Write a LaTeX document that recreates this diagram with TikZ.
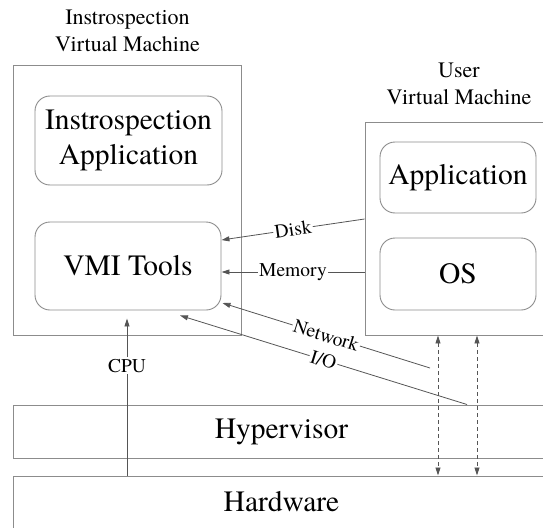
\documentclass[tikz,border=0pt]{standalone}
\usepackage{fontspec}
\setmainfont{texgyretermes}[Extension=.otf, UprightFont=*-regular, BoldFont=*-bold, ItalicFont=*-italic, BoldItalicFont=*-bolditalic]
\usepackage{xcolor}
\usepackage{tikz}
\usetikzlibrary{arrows.meta,calc}

\definecolor{boxgray}{HTML}{8C8C8C}
\definecolor{linkgray}{HTML}{555555}

\begin{document}
\begin{tikzpicture}[x=1pt, y=-1pt, >={Triangle[length=8pt,width=5pt]},
  vmbox/.style={draw=boxgray, line width=0.9pt, inner sep=0pt},
  part/.style={draw=boxgray, line width=0.9pt, rounded corners=15pt, align=center, font=\fontsize{29.5}{35}\selectfont},
  layer/.style={draw=boxgray, line width=1pt, font=\fontsize{29.5}{35}\selectfont},
  title/.style={align=center, font=\fontsize{22}{27}\selectfont},
  link/.style={draw=linkgray, line width=0.8pt, ->},
  lbl/.style={fill=white, inner sep=1.5pt, font=\fontsize{19.5}{22}\selectfont}]
\useasboundingbox (0,0) rectangle (543,527);

% Layers
\node[layer, minimum width=537pt, minimum height=53pt] (hyp) at (281.5,431.5) {Hypervisor};
\node[layer, minimum width=537pt, minimum height=52pt] (hw) at (281.5,502) {Hardware};

% Introspection VM
\node[vmbox, minimum width=228pt, minimum height=270pt] (ivm) at (127,200) {};
\node[title] (ivmtitle) at (127.5,31) {Instrospection\\Virtual Machine};
\node[part, minimum width=187pt, minimum height=89pt] (iapp) at (128.5,140.5) {Instrospection\\Application};
\node[part, minimum width=186pt, minimum height=88pt] (vmi) at (128,266) {VMI Tools};

% User VM
\node[vmbox, minimum width=185pt, minimum height=213pt] (uvm) at (457.5,228.5) {};
\node[title] (uvmtitle) at (459,84) {User\\Virtual Machine};
\node[part, minimum width=156pt, minimum height=71pt] (uapp) at (458,177.5) {Application};
\node[part, minimum width=156pt, minimum height=72pt] (os) at (458,274) {OS};

% Access paths
\coordinate (netS) at (430,368);
\draw[link] ($(uvm.west)+(0,-9.5)$) -- node[lbl, sloped] {Disk} ($(vmi.east)+(0,-26)$);
\draw[link] ($(uvm.west)+(0,43.5)$) -- node[lbl] {Memory} ($(vmi.east)+(0,6)$);
\draw[link] (netS) -- node[lbl, sloped] {Network} ($(vmi.east)+(1,37)$);
\draw[link] ($(hyp.north)+(185.5,0)$) -- node[lbl, sloped] {I/O} ($(vmi.south)+(52,5)$);
\draw[link] ($(hw.north)+(-154.5,0)$) -- node[lbl, pos=0.7] {CPU} ($(vmi.south)+(-1,8)$);

% Hardware access
\draw[link, <->, dash pattern=on 4pt off 3pt] ($(uvm.south)+(-19.5,0)$) -- ($(hw.north)+(156.5,0)$);
\draw[link, <->, dash pattern=on 4pt off 3pt] ($(uvm.south)+(19.5,0)$) -- ($(hw.north)+(195.5,0)$);
\end{tikzpicture}
\end{document}
